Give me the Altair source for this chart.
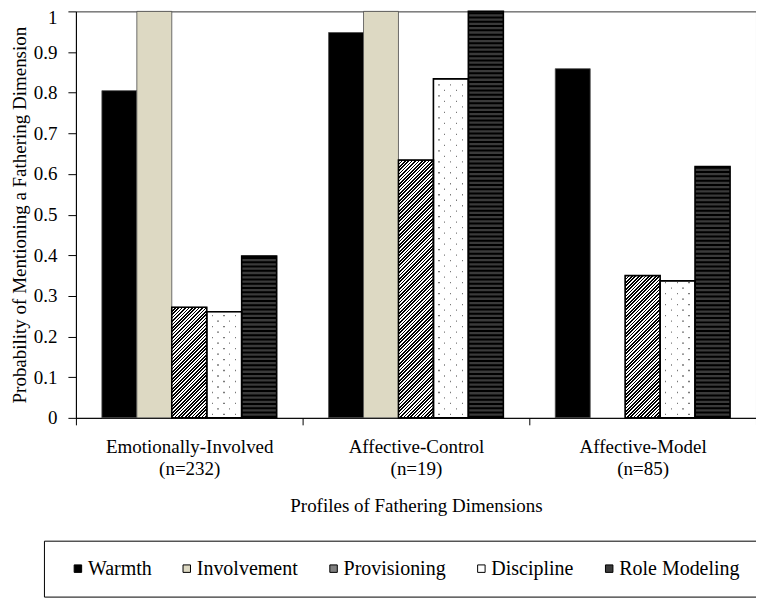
import altair as alt
import pandas as pd

# ---------------- data ----------------
group_names = ["Emotionally-Involved", "Affective-Control", "Affective-Model"]
group_sizes = ["(n=232)", "(n=19)", "(n=85)"]
series_names = ["Warmth", "Involvement", "Provisioning", "Discipline", "Role Modeling"]
warmth = [0.805, 0.948, 0.859]
involvement = [1.0, 1.0, None]
provisioning = [0.272, 0.634, 0.350]
discipline = [0.261, 0.834, 0.337]
role_modeling = [0.398, 1.0, 0.618]
y_ticks = [0.0, 0.1, 0.2, 0.3, 0.4, 0.5, 0.6, 0.7, 0.8, 0.9, 1.0]

# ---------------- style / layout ----------------
series_colors = ["#000000", "#DDD9C3", "#808080", "#FFFFFF", "#3a3a3a"]
FONT = "'Liberation Serif', 'Times New Roman', 'DejaVu Serif', serif"
FS = 19
W, H = 681, 407
OUTER = 0.743
BAR_W = (W / 3) / (len(series_names) + 2 * OUTER)

group_labels = [f"{g}|{n}" for g, n in zip(group_names, group_sizes)]
series_values = dict(zip(series_names, [warmth, involvement, provisioning, discipline, role_modeling]))

rows = [
    {"group": lab, "series": s, "value": v}
    for s in series_names
    for lab, v in zip(group_labels, series_values[s])
    if v is not None
]
bars = pd.DataFrame(rows)

x_axis = alt.Axis(
    title="Profiles of Fathering Dimensions",
    labelExpr="split(datum.label, '|')",
    labelAngle=0,
    tickBand="extent",
    tickSize=7,
    labelPadding=13,
    labelLineHeight=22,
    titlePadding=18,
)
y_axis = alt.Axis(
    title="Probability of Mentioning a Fathering Dimension",
    titleFontSize=19,
    values=y_ticks,
    format=".1~f",
    tickSize=8,
    labelPadding=11,
    labelOffset={"expr": "datum.value == 1 ? 6 : 0"},
    titlePadding=4,
)

x_enc = alt.X("group:N", scale=alt.Scale(domain=group_labels, paddingInner=0, paddingOuter=0), axis=x_axis)
xo_enc = alt.XOffset("series:N", scale=alt.Scale(domain=series_names, paddingInner=0, paddingOuter=OUTER))


def y_enc(field):
    return alt.Y(f"{field}:Q", scale=alt.Scale(domain=[0, 1], nice=False, zero=True), axis=y_axis)


legend = alt.Legend(
    orient="none", legendX=-32, legendY=530, direction="horizontal", columns=5,
    title=" ", titleOrient="left", titlePadding=6, titleFontSize=20,
    strokeColor="black", fillColor="white", padding=18, columnPadding=25,
    symbolType="square", symbolSize=56, symbolStrokeColor="black", symbolStrokeWidth=1,
    labelOffset=0, labelFont=FONT, labelFontSize=20, labelColor="black", labelLimit=0,
)

base = alt.Chart(bars).mark_bar(stroke="#4d4d4d", strokeWidth=0.8).encode(
    x=x_enc, xOffset=xo_enc, y=y_enc("value"),
    color=alt.Color("series:N", scale=alt.Scale(domain=series_names, range=series_colors), legend=legend),
)


# ---------- pattern fills ----------
def diag_gradient(w, h, period=3.4, ink=0.5):
    total = w + h
    gx = w * total / (w * w + h * h)
    gy = h * total / (w * w + h * h)
    stops = []
    pos = 0.0
    while pos < total:
        a = pos / total
        b = min((pos + period * ink) / total, 1.0)
        c = min((pos + period) / total, 1.0)
        stops += [
            {"offset": a, "color": "#000000"},
            {"offset": b, "color": "#000000"},
            {"offset": b, "color": "#ffffff"},
            {"offset": c, "color": "#ffffff"},
        ]
        pos += period
    return {"gradient": "linear", "x1": 0, "y1": 0, "x2": gx, "y2": gy, "stops": stops}


def dot_gradient(centers, w, dot=1.3, color="#7a7a7a"):
    clear = "rgba(255,255,255,0)"
    stops = [{"offset": 0, "color": clear}]
    for c in centers:
        a = max((c - dot / 2) / w, 0)
        b = min((c + dot / 2) / w, 1)
        stops += [
            {"offset": a, "color": clear},
            {"offset": a, "color": color},
            {"offset": b, "color": color},
            {"offset": b, "color": clear},
        ]
    stops.append({"offset": 1, "color": clear})
    return {"gradient": "linear", "x1": 0, "y1": 0, "x2": 1, "y2": 0, "stops": stops}


layers = [base]

# Provisioning: diagonal hatch
for lab, v in zip(group_labels, provisioning):
    d = pd.DataFrame([{"group": lab, "series": "Provisioning", "value": v}])
    layers.append(
        alt.Chart(d).mark_bar(fill=diag_gradient(BAR_W, v * H)).encode(
            x=x_enc, xOffset=xo_enc, y=y_enc("value")
        )
    )

# Role Modeling: horizontal stripes
STRIPE_PITCH, STRIPE_INK = 4.3, 2.0
stripe_rows = []
for lab, v in zip(group_labels, role_modeling):
    k = 0
    while k * STRIPE_PITCH < v * H:
        y0 = k * STRIPE_PITCH / H
        y1 = min((k * STRIPE_PITCH + STRIPE_INK) / H, v)
        stripe_rows.append({"group": lab, "series": "Role Modeling", "y0": y0, "y1": y1})
        k += 1
stripes = pd.DataFrame(stripe_rows)
layers.append(
    alt.Chart(stripes).mark_bar(fill="#000000").encode(
        x=x_enc, xOffset=xo_enc, y=y_enc("y0"), y2=alt.Y2("y1:Q")
    )
)

# Discipline: staggered dots
DOT_ROW, DOT_H = 5.5, 1.3
dot_rows = []
for lab, v in zip(group_labels, discipline):
    k = 0
    while (k + 0.8) * DOT_ROW < v * H:
        y0 = (k + 0.5) * DOT_ROW / H
        dot_rows.append({"group": lab, "series": "Discipline", "y0": y0, "y1": y0 + DOT_H / H, "odd": k % 2})
        k += 1
dots = pd.DataFrame(dot_rows)
for parity, centers in [(0, [5.5, 17.2, 28.9]), (1, [11.3, 23.0])]:
    layers.append(
        alt.Chart(dots[dots["odd"] == parity]).mark_bar(fill=dot_gradient(centers, BAR_W)).encode(
            x=x_enc, xOffset=xo_enc, y=y_enc("y0"), y2=alt.Y2("y1:Q")
        )
    )

# outlines on top
outlined = bars[bars["series"].isin(["Provisioning", "Discipline", "Role Modeling"])]
layers.append(
    alt.Chart(outlined).mark_bar(fill="transparent", stroke="#000000", strokeWidth=1.6).encode(
        x=x_enc, xOffset=xo_enc, y=y_enc("value")
    )
)

chart = (
    alt.layer(*layers)
    .properties(
        width=W, height=H,
        autosize=alt.AutoSizeParams(type="none"),
        padding={"left": 68, "top": 3, "right": 0, "bottom": 180},
    )
    .configure_axis(
        labelFont=FONT, labelFontSize=FS, labelColor="black",
        titleFont=FONT, titleFontSize=FS, titleFontWeight="normal", titleColor="black",
        domainColor="black", tickColor="black", grid=False,
    )
    .configure_view(stroke="#333333", strokeWidth=1)
)

chart.save("out.html", embed_options={"renderer": "svg", "actions": False})
